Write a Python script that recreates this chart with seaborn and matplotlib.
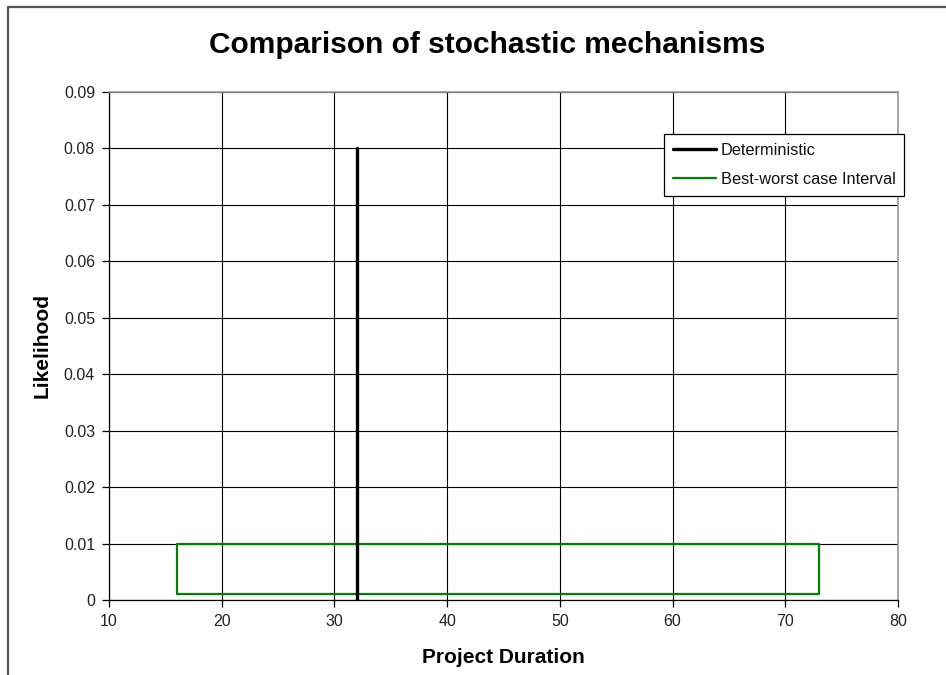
import matplotlib
matplotlib.use("Agg")
import matplotlib.pyplot as plt
from matplotlib.lines import Line2D
import pandas as pd
import seaborn as sns

# Data
det_duration = 32
det_likelihood = [0.0, 0.08]
interval_duration = [16, 73]          # best case, worst case
interval_likelihood = [0.001, 0.01]   # band bottom, band top
x_ticks = [10, 20, 30, 40, 50, 60, 70, 80]
y_ticks = [0, 0.01, 0.02, 0.03, 0.04, 0.05, 0.06, 0.07, 0.08, 0.09]
y_tick_labels = ["0", "0.01", "0.02", "0.03", "0.04", "0.05", "0.06", "0.07", "0.08", "0.09"]

sns.set_theme(style="white")
plt.rcParams["font.family"] = ["Liberation Sans", "DejaVu Sans"]
plt.rcParams["text.color"] = "black"
plt.rcParams["axes.labelcolor"] = "black"

fig = plt.figure(figsize=(9.46, 6.75), dpi=100)
ax = fig.add_axes([109 / 946, 75 / 675, (898 - 109) / 946, (600 - 92) / 675])

det_df = pd.DataFrame({"x": [det_duration, det_duration], "y": det_likelihood})
lo, hi = interval_duration
b, t = interval_likelihood
box_df = pd.DataFrame({"x": [lo, hi, hi, lo, lo], "y": [b, b, t, t, b]})

sns.lineplot(data=det_df, x="x", y="y", sort=False, ax=ax, color="black",
             linewidth=2.4, estimator=None, label="Deterministic", zorder=4)
sns.lineplot(data=box_df, x="x", y="y", sort=False, ax=ax, color="#008000",
             linewidth=1.6, estimator=None, label="Best-worst case Interval", zorder=3)

ax.set_xlim(10, 80)
ax.set_ylim(0, 0.09)
ax.set_xticks(x_ticks)
ax.set_yticks(y_ticks)
ax.set_yticklabels(y_tick_labels)
ax.grid(True, color="black", linewidth=0.8)
ax.set_axisbelow(True)

for side in ["left", "bottom"]:
    ax.spines[side].set_color("black")
    ax.spines[side].set_linewidth(0.9)
for side in ["top", "right"]:
    ax.spines[side].set_color("#999999")
    ax.spines[side].set_linewidth(1.2)

ax.tick_params(axis="both", which="major", direction="out", length=5, width=0.9,
               color="black", labelsize=11.5, labelcolor="#222222", pad=5,
               bottom=True, left=True)

ax.set_xlabel("Project Duration", fontsize=15, fontweight="bold", labelpad=14)
ax.set_ylabel("Likelihood", fontsize=15, fontweight="bold", labelpad=9)

fig.text(487 / 946, 1 - 45 / 675, "Comparison of stochastic mechanisms",
         ha="center", va="center", fontsize=21.5, fontweight="bold", color="black")

leg = ax.legend(loc="upper left", bbox_to_anchor=(664 / 946, 1 - 134 / 675),
                bbox_transform=fig.transFigure, frameon=True, fancybox=False,
                edgecolor="black", fontsize=11.8, handlelength=2.6,
                handletextpad=0.3, borderpad=0.55, labelspacing=0.85,
                borderaxespad=0)
leg.get_frame().set_linewidth(0.9)
leg.get_frame().set_alpha(1)
for txt in leg.get_texts():
    txt.set_color("#111111")

# Outer chart frame (top and left edges)
fig.add_artist(Line2D([8 / 946, 1.0], [1 - 7 / 675, 1 - 7 / 675],
                      transform=fig.transFigure, color="#555555", linewidth=1.6))
fig.add_artist(Line2D([8 / 946, 8 / 946], [0.0, 1 - 7 / 675],
                      transform=fig.transFigure, color="#555555", linewidth=1.6))

fig.savefig("out.png", dpi=100, facecolor="white")
